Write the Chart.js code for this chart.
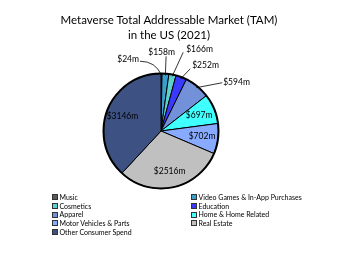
<!DOCTYPE html>
<html>
<head>
<meta charset="utf-8">
<script src="https://cdn.jsdelivr.net/npm/chart.js@4/dist/chart.umd.min.js"></script>
<style>
  html, body { margin: 0; padding: 0; background: #fff; }
  #wrap { position: relative; width: 360px; height: 254px; overflow: hidden; }
  #c { position: absolute; left: 0; top: 0; }
  #title { position: absolute; left: 0; width: 338px; top: 12px; text-align: center;
           font-family: Lato, sans-serif; font-size: 11.5px; line-height: 15px; color: #000; }
  #legend { position: absolute; left: 52px; top: 193px; display: grid;
            grid-template-columns: 139px auto; grid-auto-rows: 8.7px;
            font-family: Lato, sans-serif; font-size: 7px; color: #000; }
  .li { display: flex; align-items: center; white-space: nowrap; line-height: 8.7px; }
  .bx { width: 4px; height: 4px; border: 1px solid #333; margin-right: 1.5px; flex: none; }
</style>
</head>
<body>
<div id="wrap">
  <canvas id="c" width="360" height="254"></canvas>
  <div id="title">Metaverse Total Addressable Market (TAM)<br>in the US (2021)</div>
  <div id="legend"></div>
</div>
<script>
const categories = ['Music', 'Video Games & In-App Purchases', 'Cosmetics', 'Education', 'Apparel',
                    'Home & Home Related', 'Motor Vehicles & Parts', 'Real Estate', 'Other Consumer Spend'];
const values = [24, 158, 166, 252, 594, 697, 702, 2516, 3146];
const valueLabels = ['$24m', '$158m', '$166m', '$252m', '$594m', '$697m', '$702m', '$2516m', '$3146m'];
const colors = ['#5a5a5a', '#3a9fcc', '#5fd0d0', '#3a3aff', '#7391d8', '#40ffff', '#88aaff', '#c0c0c0', '#3d5283'];

// label placement (style only)
const placement = [
  {mode: 'out', dx: -21.5, dy: -14, align: 'right', tx: -1, ty: -2, curve: true},
  {mode: 'out', dx: 0.7, dy: -19, align: 'center', tx: -4.5, ty: -4},
  {mode: 'out', dx: 11, dy: -24, align: 'left', tx: 3, ty: -3},
  {mode: 'out', dx: 9.5, dy: -10, align: 'left', tx: 2, ty: -4},
  {mode: 'out', dx: 26, dy: -5, align: 'left', tx: 1, ty: 0},
  {mode: 'in', f: 0.72},
  {mode: 'in', f: 0.72},
  {mode: 'in', f: 0.72},
  {mode: 'in', f: 0.72}
];

const labelPlugin = {
  id: 'sliceLabels',
  afterDatasetsDraw(chart) {
    const ctx = chart.ctx;
    const meta = chart.getDatasetMeta(0);
    if (!meta.data.length) return;
    const a0 = meta.data[0].getProps(['x', 'y', 'outerRadius'], true);
    ctx.save();
    ctx.beginPath();
    ctx.arc(a0.x, a0.y, a0.outerRadius, 0, Math.PI * 2);
    ctx.lineWidth = 2;
    ctx.strokeStyle = '#000';
    ctx.stroke();
    ctx.font = '8.5px Lato, sans-serif';
    ctx.fillStyle = '#000';
    ctx.textBaseline = 'middle';
    meta.data.forEach((arc, i) => {
      const p = arc.getProps(['x', 'y', 'startAngle', 'endAngle', 'outerRadius'], true);
      const mid = (p.startAngle + p.endAngle) / 2;
      const pl = placement[i];
      if (pl.mode === 'in') {
        const r = p.outerRadius * pl.f;
        ctx.textAlign = 'center';
        ctx.fillText(valueLabels[i], p.x + Math.cos(mid) * r, p.y + Math.sin(mid) * r);
      } else {
        const r = p.outerRadius * 0.97;
        const sx = p.x + Math.cos(mid) * r, sy = p.y + Math.sin(mid) * r;
        const ex = sx + pl.dx, ey = sy + pl.dy;
        ctx.beginPath();
        ctx.moveTo(sx, sy);
        if (pl.curve) {
          ctx.quadraticCurveTo(sx - 6, ey, ex, ey);
        } else {
          ctx.lineTo(ex, ey);
        }
        ctx.lineWidth = 0.8;
        ctx.strokeStyle = '#000';
        ctx.stroke();
        ctx.textAlign = pl.align;
        ctx.fillText(valueLabels[i], ex + pl.tx, ey + pl.ty);
      }
    });
    ctx.restore();
  }
};

new Chart(document.getElementById('c'), {
  type: 'pie',
  data: {
    labels: categories,
    datasets: [{
      data: values,
      backgroundColor: colors,
      borderColor: '#000',
      borderWidth: 1
    }]
  },
  options: {
    responsive: false,
    devicePixelRatio: 1,
    animation: false,
    layout: { padding: { left: 103, right: 141, top: 73, bottom: 65 } },
    plugins: { legend: { display: false }, title: { display: false }, tooltip: { enabled: false } }
  },
  plugins: [labelPlugin]
});

const lg = document.getElementById('legend');
categories.forEach((c, i) => {
  const d = document.createElement('div');
  d.className = 'li';
  const b = document.createElement('span');
  b.className = 'bx';
  b.style.background = colors[i];
  d.appendChild(b);
  d.appendChild(document.createTextNode(c));
  lg.appendChild(d);
});
</script>
</body>
</html>
